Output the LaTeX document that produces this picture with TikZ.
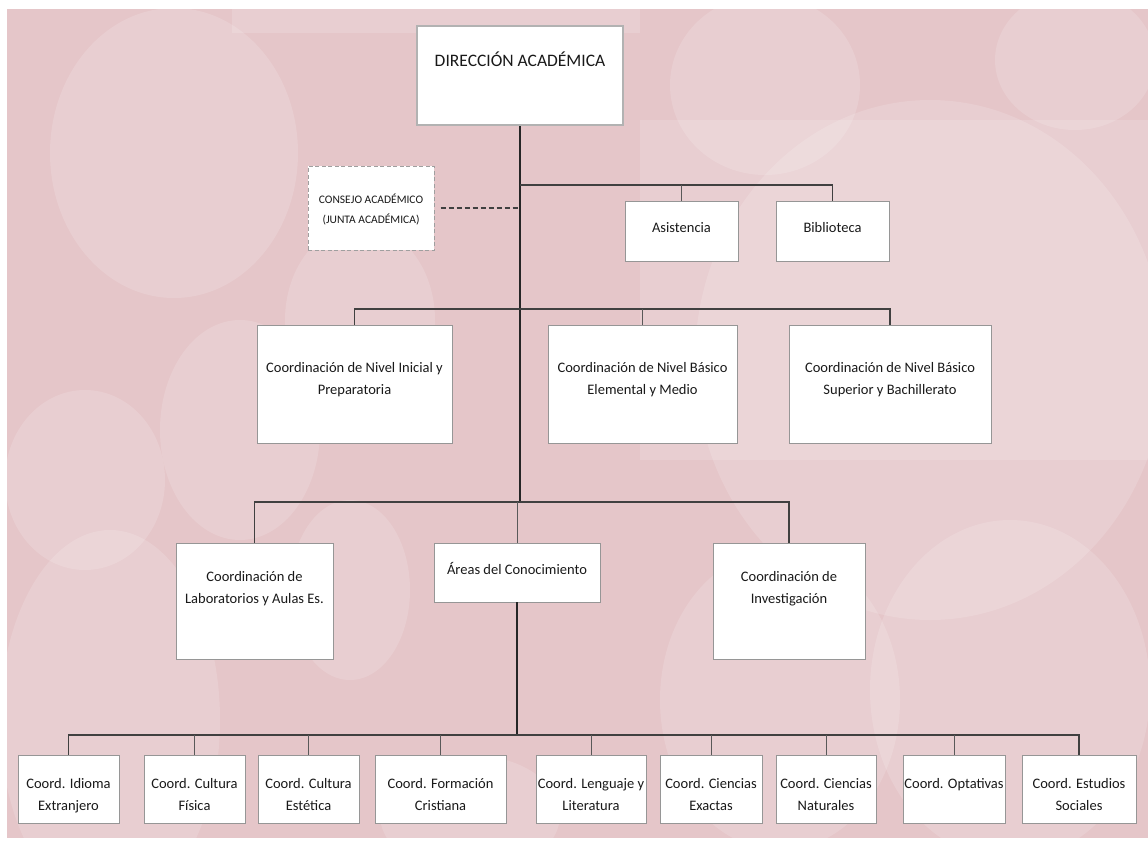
\documentclass[tikz,border=0pt]{standalone}
\usepackage{fontspec}
\setmainfont{Carlito}
\usepackage{xcolor}
\usetikzlibrary{positioning}
\definecolor{rosa}{RGB}{229,198,201}
\definecolor{borde}{RGB}{150,150,150}

\begin{document}
\begin{tikzpicture}[x=1pt,y=-1pt]
        % estilos de cajas, textos y lineas
        \tikzset{caja/.style={draw=borde, line width=0.9pt, fill=white, inner sep=0pt}}
        \tikzset{cajadir/.style={caja, draw=gray!60, line width=2.4pt}}
        \tikzset{cajapunteada/.style={caja, draw=gray!75, line width=1pt, dash pattern=on 4pt off 2.5pt}}
        \tikzset{texto/.style={inner sep=0pt, anchor=north, align=center, text=black!90, font=\fontsize{14.5}{22}\selectfont}}
        \tikzset{tronco/.style={line width=1.8pt, black!85}}
        \tikzset{rama/.style={line width=1.1pt, black!75}}
        \tikzset{baja/.style={line width=0.9pt, black!65}}

        % 1. fondo rosado con manchas claras
        \useasboundingbox (0,0) rectangle (1148,854);
        \fill[white] (0,0) rectangle (1148,854);
        \fill[rosa] (7,9) rectangle (1148,838);
        \begin{scope}[white, opacity=0.15]
            \fill (232,9) rectangle (640,33);
            \fill (640,120) rectangle (1148,460);
            \fill (174,153) ellipse [x radius=124pt, y radius=145pt];
            \fill (765,85) ellipse [x radius=95pt, y radius=90pt];
            \fill (1075,60) ellipse [x radius=80pt, y radius=70pt];
            \fill (930,360) ellipse [x radius=235pt, y radius=260pt];
            \fill (360,320) ellipse [x radius=75pt, y radius=95pt];
            \fill (240,430) ellipse [x radius=80pt, y radius=110pt];
            \fill (85,480) ellipse [x radius=80pt, y radius=90pt];
            \fill (110,720) ellipse [x radius=110pt, y radius=190pt];
            \fill (350,590) ellipse [x radius=60pt, y radius=90pt];
            \fill (780,700) ellipse [x radius=120pt, y radius=150pt];
            \fill (1010,690) ellipse [x radius=140pt, y radius=170pt];
            \fill (470,815) ellipse [x radius=90pt, y radius=60pt];
        \end{scope}

        % 2. cajas
        \node[cajadir, minimum width=206pt, minimum height=99pt] (dir) at (520,75.5) {};
        \node[cajapunteada, minimum width=126pt, minimum height=84pt] (consejo) at (371,208) {};
        \node[caja, minimum width=113pt, minimum height=60pt] (asist) at (681.5,231) {};
        \node[caja, minimum width=113pt, minimum height=60pt] (biblio) at (832.5,231) {};

        \node[caja, minimum width=195pt, minimum height=118pt] (inicial) at (354.5,384) {};
        \node[caja, minimum width=189pt, minimum height=118pt] (elemental) at (642.5,384) {};
        \node[caja, minimum width=202pt, minimum height=118pt] (superior) at (890,384) {};

        \node[caja, minimum width=157pt, minimum height=116pt] (lab) at (254.5,601) {};
        \node[caja, minimum width=166pt, minimum height=59pt] (areas) at (517,572.5) {};
        \node[caja, minimum width=152pt, minimum height=116pt] (inv) at (789,601) {};

        \node[caja, minimum width=101pt, minimum height=68pt] (idioma) at (68.5,789) {};
        \node[caja, minimum width=101pt, minimum height=68pt] (fisica) at (194.5,789) {};
        \node[caja, minimum width=101pt, minimum height=68pt] (estetica) at (308.5,789) {};
        \node[caja, minimum width=131pt, minimum height=68pt] (formacion) at (440.5,789) {};
        \node[caja, minimum width=110pt, minimum height=68pt] (lenguaje) at (591,789) {};
        \node[caja, minimum width=102pt, minimum height=68pt] (exactas) at (711,789) {};
        \node[caja, minimum width=100pt, minimum height=68pt] (naturales) at (826,789) {};
        \node[caja, minimum width=102pt, minimum height=68pt] (optativas) at (954,789) {};
        \node[caja, minimum width=114pt, minimum height=68pt] (estudios) at (1079,789) {};

        % 3. textos
        \node[texto, font=\fontsize{17.5}{21}\selectfont] (dir-t) at ([yshift=-27pt]dir.north) {\strut DIRECCIÓN ACADÉMICA};
        \node[texto, font=\fontsize{11.5}{20}\selectfont] (consejo-t) at ([yshift=-23.5pt]consejo.north) {\strut CONSEJO ACADÉMICO\\(JUNTA ACADÉMICA)};
        \node[texto] (asist-t) at ([yshift=-16pt]asist.north) {\strut Asistencia};
        \node[texto] (biblio-t) at ([yshift=-16pt]biblio.north) {\strut Biblioteca};

        \node[texto] (inicial-t) at ([yshift=-32pt]inicial.north) {\strut Coordinación de Nivel Inicial y\\Preparatoria};
        \node[texto] (elemental-t) at ([yshift=-32pt]elemental.north) {\strut Coordinación de Nivel Básico\\Elemental y Medio};
        \node[texto] (superior-t) at ([yshift=-32pt]superior.north) {\strut Coordinación de Nivel Básico\\Superior y Bachillerato};

        \node[texto] (lab-t) at ([yshift=-23pt]lab.north) {\strut Coordinación de\\Laboratorios y Aulas Es.};
        \node[texto] (areas-t) at ([yshift=-16pt]areas.north) {\strut Áreas del Conocimiento};
        \node[texto] (inv-t) at ([yshift=-23pt]inv.north) {\strut Coordinación de\\Investigación};

        \node[texto] (idioma-t) at ([yshift=-18.5pt]idioma.north) {\strut Coord. Idioma\\Extranjero};
        \node[texto] (fisica-t) at ([yshift=-18.5pt]fisica.north) {\strut Coord. Cultura\\Física};
        \node[texto] (estetica-t) at ([yshift=-18.5pt]estetica.north) {\strut Coord. Cultura\\Estética};
        \node[texto] (formacion-t) at ([yshift=-18.5pt]formacion.north) {\strut Coord. Formación\\Cristiana};
        \node[texto] (lenguaje-t) at ([yshift=-18.5pt]lenguaje.north) {\strut Coord. Lenguaje y\\Literatura};
        \node[texto] (exactas-t) at ([yshift=-18.5pt]exactas.north) {\strut Coord. Ciencias\\Exactas};
        \node[texto] (naturales-t) at ([yshift=-18.5pt]naturales.north) {\strut Coord. Ciencias\\Naturales};
        \node[texto] (optativas-t) at ([yshift=-18.5pt]optativas.north) {\strut Coord. Optativas};
        \node[texto] (estudios-t) at ([yshift=-18.5pt]estudios.north) {\strut Coord. Estudios\\Sociales};

        % 4. conectores
        \coordinate (b1) at (520,185);
        \coordinate (b2) at (520,309);
        \coordinate (b3) at (520,502);
        \coordinate (b4) at (517,735);

        \draw[tronco] (dir.south) -- (b3);
        \draw[line width=1.2pt, black!75, dash pattern=on 5pt off 3pt] ([xshift=6pt]consejo.east) -- (consejo.east -| b1);

        \draw[rama] (b1) -| (biblio.north);
        \draw[baja] (asist.north) -- (asist.north |- b1);

        \draw[rama] (inicial.north) |- (b2) -| (superior.north);
        \draw[baja] (elemental.north) -- (elemental.north |- b2);

        \draw[rama] (lab.north) |- (b3) -| (inv.north);
        \draw[baja] (areas.north) -- (areas.north |- b3);

        \draw[tronco] (areas.south) -- (b4);
        \draw[rama] (idioma.north) |- (b4) -| (estudios.north);
        \draw[baja] (fisica.north) -- (fisica.north |- b4);
        \draw[baja] (estetica.north) -- (estetica.north |- b4);
        \draw[baja] (formacion.north) -- (formacion.north |- b4);
        \draw[baja] (lenguaje.north) -- (lenguaje.north |- b4);
        \draw[baja] (exactas.north) -- (exactas.north |- b4);
        \draw[baja] (naturales.north) -- (naturales.north |- b4);
        \draw[baja] (optativas.north) -- (optativas.north |- b4);
    \end{tikzpicture}
\end{document}
